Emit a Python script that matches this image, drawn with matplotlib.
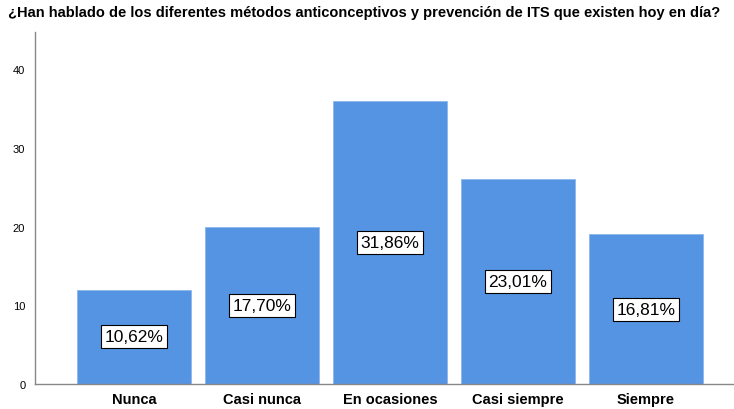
import matplotlib.pyplot as plt

plt.rcParams['font.family'] = ['Liberation Sans', 'DejaVu Sans']

categorias = ['Nunca', 'Casi nunca', 'En ocasiones', 'Casi siempre', 'Siempre']
frecuencias = [12, 20, 36, 26, 19]
porcentajes = ['10,62%', '17,70%', '31,86%', '23,01%', '16,81%']

fig = plt.figure(figsize=(7.34, 4.10), dpi=100)
ax = fig.add_axes([35 / 734, 25 / 410, 698 / 734, 352 / 410])

x = range(len(categorias))
bars = ax.bar(x, frecuencias, width=0.89, color='#5594E3', edgecolor='#8DB6EC', linewidth=0.6)

for b, p in zip(bars, porcentajes):
    ax.text(b.get_x() + b.get_width() / 2, b.get_height() / 2, p,
            ha='center', va='center', fontsize=12.5,
            bbox=dict(boxstyle='square,pad=0.22', facecolor='white', edgecolor='black', linewidth=0.8))

ax.set_xlim(-0.773, 4.68)
ax.set_ylim(0, 44.7)
ax.set_yticks([0, 10, 20, 30, 40])
ax.set_xticks(list(x))
ax.set_xticklabels(categorias, fontsize=10.5, fontweight='bold')
ax.tick_params(axis='y', labelsize=8, length=0, pad=7)
ax.tick_params(axis='x', length=0, pad=6)

for s in ['top', 'right']:
    ax.spines[s].set_visible(False)
for s in ['left', 'bottom']:
    ax.spines[s].set_color('#888888')
    ax.spines[s].set_linewidth(1)

fig.text(8 / 734, 1 - 13 / 410,
         '¿Han hablado de los diferentes métodos anticonceptivos y prevención de ITS que existen hoy en día?',
         fontsize=10.5, fontweight='bold', va='center', ha='left')

fig.savefig('out.png', dpi=100)
